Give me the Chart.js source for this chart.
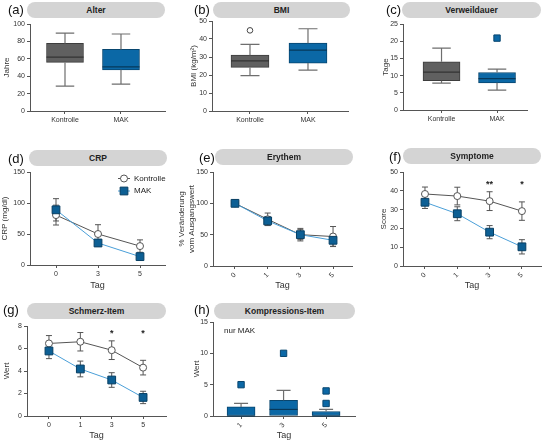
<!DOCTYPE html>
<html><head><meta charset="utf-8">
<script src="https://cdn.jsdelivr.net/npm/chart.js@4/dist/chart.umd.min.js"></script>
<style>
body{margin:0;width:546px;height:442px;position:relative;background:#fff;overflow:hidden;font-family:"Liberation Sans",Arial,sans-serif;}
#wrap{position:absolute;left:0;top:0;width:546px;height:442px;}
canvas{position:absolute;}
.pill{position:absolute;height:16px;border-radius:8px;background:#d4d4d4;font-weight:bold;font-size:8.5px;color:#222;text-align:center;line-height:16px;}
.lab{position:absolute;font-size:13px;line-height:13px;color:#111;}
.note{position:absolute;font-size:8px;color:#222;}
</style></head><body>
<div id="wrap"></div>
<script>
// ---------------- DATA ----------------
const boxCats = ['Kontrolle', 'MAK'];
// each box: [min, q1, median, q3, max]
const alterStats = [[28.5, 55.8, 62, 77.7, 89.6], [30.8, 47.3, 50.8, 70.8, 88.5]];
const bmiStats = [[19.7, 24.2, 27.9, 31, 37], [22.7, 26.6, 33.8, 37.7, 45.7]];
const bmiOutliers = [[44.8], []];
const verweilStats = [[7.8, 8.5, 11, 14, 18], [5.8, 7.9, 9.1, 10.9, 11.9]];
const verweilOutliers = [[], [20.9]];

const crpTage = ['0', '3', '5'];
const crpKontrolle = [80.5, 50, 30.5];
const crpKontrolleSem = [16, 15, 10];
const crpMak = [89, 35.5, 13.5];
const crpMakSem = [18, 5, 4];

const eryTage = ['0', '1', '3', '5'];
const eryKontrolle = [100, 74.5, 50, 47];
const eryKontrolleSem = [0, 10, 10, 16];
const eryMak = [100, 72, 50, 41];
const eryMakSem = [0, 7, 8, 9.5];

const symTage = ['0', '1', '3', '5'];
const symKontrolle = [38.3, 37.2, 34.5, 29.2];
const symKontrolleSem = [3.7, 4.7, 5, 4.9];
const symMak = [33.9, 27.8, 18, 10.2];
const symMakSem = [3.3, 3.7, 3.5, 3.8];
const symSig = ['', '', '**', '*'];

const schTage = ['0', '1', '3', '5'];
const schKontrolle = [6.45, 6.6, 5.85, 4.3];
const schKontrolleSem = [0.7, 0.82, 0.83, 0.65];
const schMak = [5.78, 4.18, 3.2, 1.65];
const schMakSem = [0.68, 0.7, 0.65, 0.55];
const schSig = ['', '', '*', '*'];

const kompTage = ['1', '3', '5'];
const kompStats = [[0, 0, 0, 1.45, 2], [0, 0, 1.05, 2.5, 4.1], [0, 0, 0, 0.72, 1.05]];
const kompOutliers = [[5], [10], [4, 2]];

// ---------------- STYLE ----------------
const FONT = "'Liberation Sans', Arial, sans-serif";
const AX = '#555';
const GRAY_BOX = '#606060', GRAY_EDGE = '#3d3d3d', GRAY_MED = '#333';
const BLUE_BOX = '#0b68a6', BLUE_EDGE = '#08466f', BLUE_MED = '#06385a';
const WHISK = '#6e6e6e';
const K_LINE = '#555555', M_LINE = '#4a9fd8', M_PT = '#0d5f94', M_PT_EDGE = '#083f63';

Chart.defaults.font.family = FONT;
Chart.defaults.color = '#333';
Chart.defaults.animation = false;
Chart.defaults.responsive = false;
Chart.defaults.devicePixelRatio = 1;
Chart.defaults.plugins.legend.display = false;
Chart.defaults.plugins.tooltip.enabled = false;

const PT = 10, PR = 10;
const layoutPad = {top: PT, right: PR, left: 0, bottom: 0};

function place(area, yW, xH) {
  const c = document.createElement('canvas');
  const w = area.r - area.l + yW + PR, h = area.b - area.t + PT + xH;
  c.width = w; c.height = h;
  Object.assign(c.style, {left: (area.l - yW) + 'px', top: (area.t - PT) + 'px', width: w + 'px', height: h + 'px'});
  document.getElementById('wrap').appendChild(c);
  return c;
}
function gridCfg() { return {display: true, offset: false, drawOnChartArea: false, drawTicks: true, tickLength: 3, color: AX, lineWidth: 1}; }
function borderCfg() { return {display: true, color: AX, width: 1}; }
function yAxis(max, step, title, yW) {
  return {type: 'linear', min: 0, max: max,
    ticks: {stepSize: step, font: {size: 7}, color: '#333', padding: 2},
    grid: gridCfg(), border: borderCfg(),
    title: {display: true, text: title, font: {size: 8}, color: '#333', padding: 0},
    afterFit(s) { s.width = yW; }};
}
function xAxis(min, max, labels, xH, rot, title) {
  return {type: 'linear', min: min, max: max, offset: false,
    afterBuildTicks(s) { s.ticks = labels.map((_, i) => ({value: i})); },
    ticks: {autoSkip: false, callback: (v) => (labels[v] !== undefined ? labels[v] : ''), font: {size: 7}, color: '#333', padding: 2, minRotation: rot, maxRotation: rot},
    grid: gridCfg(), border: borderCfg(),
    title: {display: !!title, text: title || '', font: {size: 9}, color: '#333', padding: 0},
    afterFit(s) { s.height = xH; }};
}

// ---------------- PLUGINS ----------------
const boxPlugin = {
  id: 'boxWhisker',
  afterDatasetsDraw(chart) {
    const ctx = chart.ctx, ys = chart.scales.y;
    chart.data.datasets.forEach((ds, di) => {
      if (!ds.boxStats) return;
      const meta = chart.getDatasetMeta(di);
      ds.boxStats.forEach((st, i) => {
        const bar = meta.data[i];
        const x = bar.x, half = bar.width / 2, cap = half * 0.5;
        const [mn, q1, md, q3, mx] = st;
        const p = (v) => ys.getPixelForValue(v);
        ctx.save();
        ctx.strokeStyle = WHISK; ctx.lineWidth = 1.2;
        ctx.beginPath();
        if (mx > q3) { ctx.moveTo(x, p(q3)); ctx.lineTo(x, p(mx)); ctx.moveTo(x - cap, p(mx)); ctx.lineTo(x + cap, p(mx)); }
        if (mn < q1) { ctx.moveTo(x, p(q1)); ctx.lineTo(x, p(mn)); ctx.moveTo(x - cap, p(mn)); ctx.lineTo(x + cap, p(mn)); }
        ctx.stroke();
        ctx.strokeStyle = ds.medianColors[i]; ctx.lineWidth = 1.2;
        ctx.beginPath(); ctx.moveTo(x - half, p(md)); ctx.lineTo(x + half, p(md)); ctx.stroke();
        ctx.restore();
      });
    });
  }
};
const errPlugin = {
  id: 'errBars',
  beforeDatasetsDraw(chart) {
    const ctx = chart.ctx, ys = chart.scales.y;
    chart.data.datasets.forEach((ds, di) => {
      if (!ds.sem) return;
      const meta = chart.getDatasetMeta(di);
      meta.data.forEach((pt, i) => {
        const e = ds.sem[i]; if (!e) return;
        const v = ds.data[i].y;
        const yt = ys.getPixelForValue(v + e), yb = ys.getPixelForValue(v - e);
        ctx.save(); ctx.strokeStyle = '#555'; ctx.lineWidth = 1;
        ctx.beginPath();
        ctx.moveTo(pt.x, yt); ctx.lineTo(pt.x, yb);
        ctx.moveTo(pt.x - 3, yt); ctx.lineTo(pt.x + 3, yt);
        ctx.moveTo(pt.x - 3, yb); ctx.lineTo(pt.x + 3, yb);
        ctx.stroke(); ctx.restore();
      });
    });
  }
};
const sigPlugin = {
  id: 'sigMarks',
  afterDatasetsDraw(chart, args, opts) {
    if (!opts || !opts.labels) return;
    const ctx = chart.ctx, xs = chart.scales.x, ys = chart.scales.y;
    ctx.save(); ctx.fillStyle = '#222'; ctx.font = 'bold 9px ' + FONT; ctx.textAlign = 'center'; ctx.textBaseline = 'middle';
    opts.labels.forEach((t, i) => { if (t) ctx.fillText(t, xs.getPixelForValue(i), ys.getPixelForValue(opts.y)); });
    ctx.restore();
  }
};
const lineLegend = {
  id: 'lineLegend',
  afterDraw(chart, args, opts) {
    if (!opts || !opts.show) return;
    const ctx = chart.ctx, a = chart.chartArea;
    chart.data.datasets.forEach((ds, i) => {
      const y = a.top + opts.top + i * opts.gap;
      const x0 = a.right - opts.right;
      ctx.save();
      ctx.strokeStyle = ds.borderColor; ctx.lineWidth = 1;
      ctx.beginPath(); ctx.moveTo(x0, y); ctx.lineTo(x0 + 12, y); ctx.stroke();
      ctx.fillStyle = ds.pointBackgroundColor; ctx.strokeStyle = ds.pointBorderColor; ctx.lineWidth = ds.pointBorderWidth;
      Chart.helpers.drawPoint(ctx, {pointStyle: ds.pointStyle, radius: ds.pointRadius, rotation: 0, borderWidth: ds.pointBorderWidth}, x0 + 6, y);
      ctx.fillStyle = '#222'; ctx.font = '8px ' + FONT; ctx.textBaseline = 'middle'; ctx.textAlign = 'left';
      ctx.fillText(ds.label, x0 + 16, y);
      ctx.restore();
    });
  }
};

// ---------------- BUILDERS ----------------
function boxConfig(stats, fills, edges, meds, outliers, outPt, yA, xA, barW) {
  const outData = [];
  outliers.forEach((arr, i) => arr.forEach(v => outData.push({x: i, y: v})));
  return {type: 'bar',
    data: {datasets: [
      {type: 'bar', data: stats.map((s, i) => ({x: i, y: [s[1], s[3]]})), boxStats: stats,
       backgroundColor: fills, borderColor: edges, borderWidth: 1, borderSkipped: false,
       barThickness: barW, medianColors: meds, order: 1},
      Object.assign({type: 'scatter', data: outData, order: 0}, outPt)
    ]},
    options: {layout: {padding: layoutPad}, scales: {x: xA, y: yA}},
    plugins: [boxPlugin]};
}
function kDs(vals, sem) {
  return {label: 'Kontrolle', data: vals.map((v, i) => ({x: i, y: v})), sem: sem,
    borderColor: K_LINE, borderWidth: 1, pointStyle: 'circle', pointRadius: 3.5,
    pointBackgroundColor: '#fff', pointBorderColor: K_LINE, pointBorderWidth: 1, order: 1};
}
function mDs(vals, sem) {
  return {label: 'MAK', data: vals.map((v, i) => ({x: i, y: v})), sem: sem,
    borderColor: M_LINE, borderWidth: 1, pointStyle: 'rect', pointRadius: 5.5,
    pointBackgroundColor: M_PT, pointBorderColor: M_PT_EDGE, pointBorderWidth: 1, order: 0};
}
function lineConfig(dsets, yA, xA, pluginOpts, plugins) {
  return {type: 'line', data: {datasets: dsets},
    options: {layout: {padding: layoutPad}, scales: {x: xA, y: yA}, plugins: pluginOpts || {}},
    plugins: [errPlugin].concat(plugins || [])};
}

const blueOut = {pointStyle: 'rect', pointRadius: 4.5, pointBackgroundColor: BLUE_BOX, pointBorderColor: BLUE_EDGE, pointBorderWidth: 1};

// (a) Alter
(function () {
  const area = {l: 30, r: 165, t: 24, b: 111}, yW = 28, xH = 15;
  new Chart(place(area, yW, xH), boxConfig(alterStats, [GRAY_BOX, BLUE_BOX], [GRAY_EDGE, BLUE_EDGE], [GRAY_MED, BLUE_MED], [[], []], {},
    yAxis(100, 20, 'Jahre', yW), xAxis(-0.625, 1.786, boxCats, xH, 0), 37));
})();
// (b) BMI
(function () {
  const area = {l: 212, r: 348, t: 21, b: 111}, yW = 23, xH = 15;
  new Chart(place(area, yW, xH), boxConfig(bmiStats, [GRAY_BOX, BLUE_BOX], [GRAY_EDGE, BLUE_EDGE], [GRAY_MED, BLUE_MED], bmiOutliers,
    {pointStyle: 'circle', pointRadius: 2.8, pointBackgroundColor: '#fff', pointBorderColor: '#444', pointBorderWidth: 1},
    yAxis(50, 10, 'BMI (kg/m²)', yW), xAxis(-0.655, 1.69, boxCats, xH, 0), 38));
})();
// (c) Verweildauer
(function () {
  const area = {l: 403, r: 527, t: 24, b: 110}, yW = 22, xH = 15;
  new Chart(place(area, yW, xH), boxConfig(verweilStats, [GRAY_BOX, BLUE_BOX], [GRAY_EDGE, BLUE_EDGE], [GRAY_MED, BLUE_MED], verweilOutliers, blueOut,
    yAxis(25, 5, 'Tage', yW), xAxis(-0.694, 1.54, boxCats, xH, 0), 37));
})();
// (d) CRP
(function () {
  const area = {l: 30, r: 165, t: 172, b: 265}, yW = 30, xH = 26;
  new Chart(place(area, yW, xH), lineConfig([kDs(crpKontrolle, crpKontrolleSem), mDs(crpMak, crpMakSem)],
    yAxis(150, 50, 'CRP (mg/dl)', yW), xAxis(-0.619, 2.595, crpTage, xH, 0, 'Tag'),
    {lineLegend: {show: true, top: 6.5, gap: 12.5, right: 47}}, [lineLegend]));
})();
// (e) Erythem
(function () {
  const area = {l: 213, r: 352, t: 172, b: 266}, yW = 36, xH = 25;
  new Chart(place(area, yW, xH), lineConfig([kDs(eryKontrolle, eryKontrolleSem), mDs(eryMak, eryMakSem)],
    yAxis(150, 50, ['% Veränderung', 'vom Ausgangswert'], yW), xAxis(-0.673, 3.58, eryTage, xH, 45, 'Tag')));
})();
// (f) Symptome
(function () {
  const area = {l: 403, r: 541, t: 172, b: 266}, yW = 24, xH = 25;
  new Chart(place(area, yW, xH), lineConfig([kDs(symKontrolle, symKontrolleSem), mDs(symMak, symMakSem)],
    yAxis(50, 10, 'Score', yW), xAxis(-0.68, 3.59, symTage, xH, 45, 'Tag'),
    {sigMarks: {labels: symSig, y: 43.5}}, [sigPlugin]));
})();
// (g) Schmerz-Item
(function () {
  const area = {l: 27, r: 166, t: 326, b: 416}, yW = 25, xH = 25;
  new Chart(place(area, yW, xH), lineConfig([kDs(schKontrolle, schKontrolleSem), mDs(schMak, schMakSem)],
    yAxis(8, 2, 'Wert', yW), xAxis(-0.70, 3.73, schTage, xH, 0, 'Tag'),
    {sigMarks: {labels: schSig, y: 7.35}}, [sigPlugin]));
})();
// (h) Kompressions-Item
(function () {
  const area = {l: 213, r: 355, t: 322, b: 416}, yW = 21, xH = 25;
  new Chart(place(area, yW, xH), boxConfig(kompStats, [BLUE_BOX, BLUE_BOX, BLUE_BOX], [BLUE_EDGE, BLUE_EDGE, BLUE_EDGE], [BLUE_MED, BLUE_MED, BLUE_MED], kompOutliers, blueOut,
    yAxis(15, 5, 'Wert', yW), xAxis(-0.66, 2.68, kompTage, xH, 45, 'Tag'), 28));
})();
</script>
<div class="pill" style="left:27px;top:2px;width:138px;">Alter</div>
<div class="pill" style="left:213px;top:2px;width:137px;">BMI</div>
<div class="pill" style="left:402px;top:2px;width:139px;">Verweildauer</div>
<div class="pill" style="left:29px;top:150px;width:138px;">CRP</div>
<div class="pill" style="left:215px;top:149px;width:138px;">Erythem</div>
<div class="pill" style="left:403px;top:148px;width:138px;">Symptome</div>
<div class="pill" style="left:27px;top:303px;width:139px;">Schmerz-Item</div>
<div class="pill" style="left:214px;top:303px;width:141px;">Kompressions-Item</div>
<div class="lab" style="left:8px;top:3px;">(a)</div>
<div class="lab" style="left:194px;top:3px;">(b)</div>
<div class="lab" style="left:386px;top:3px;">(c)</div>
<div class="lab" style="left:8px;top:152px;">(d)</div>
<div class="lab" style="left:199px;top:151px;">(e)</div>
<div class="lab" style="left:389px;top:150px;">(f)</div>
<div class="lab" style="left:3px;top:303px;">(g)</div>
<div class="lab" style="left:194px;top:303px;">(h)</div>
<div class="note" style="left:224px;top:326px;">nur MAK</div>
</body></html>
